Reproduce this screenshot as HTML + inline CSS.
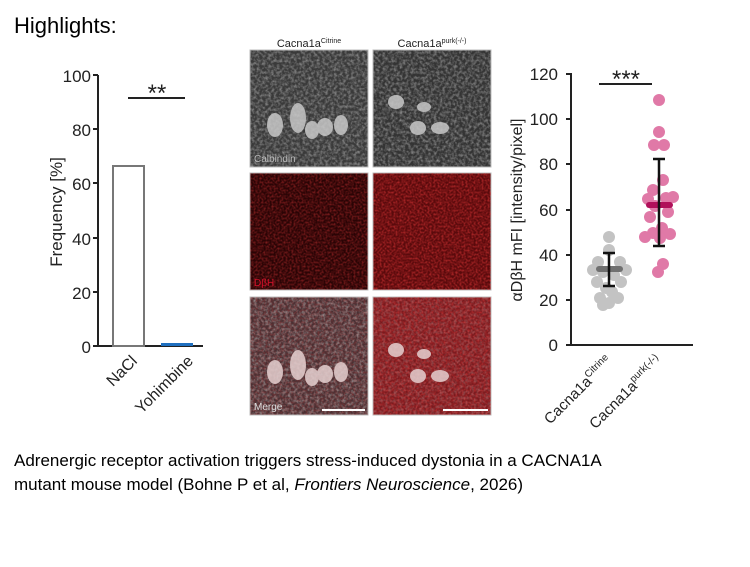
<!DOCTYPE html>
<html><head><meta charset="utf-8"><style>
body{margin:0;background:#fff;width:750px;height:562px;overflow:hidden;font-family:"Liberation Sans",sans-serif}
</style></head><body>
<svg width="750" height="562" viewBox="0 0 750 562" xmlns="http://www.w3.org/2000/svg" font-family="Liberation Sans, sans-serif">
<defs>
<filter id="noiseG" x="0" y="0" width="100%" height="100%">
<feTurbulence type="fractalNoise" baseFrequency="0.35" numOctaves="2" seed="3"/>
<feColorMatrix type="matrix" values="0 0 0 0 0.5  0 0 0 0 0.5  0 0 0 0 0.5  0 0 0 1.2 -0.45"/>
</filter>
<filter id="noiseR" x="0" y="0" width="100%" height="100%">
<feTurbulence type="fractalNoise" baseFrequency="0.5" numOctaves="2" seed="7"/>
<feColorMatrix type="matrix" values="0 0 0 0 0.9  0 0 0 0 0.05  0 0 0 0 0.05  0 0 0 1.4 -0.5"/>
</filter>
</defs>
<text x="14" y="33" font-size="22" fill="#000">Highlights:</text>

<!-- Left bar chart -->
<g stroke="#222" stroke-width="2" fill="none">
<line x1="98" y1="75" x2="98" y2="346"/>
<line x1="93" y1="346" x2="203" y2="346"/>
<line x1="93" y1="75" x2="98" y2="75"/><line x1="93" y1="129" x2="98" y2="129"/>
<line x1="93" y1="183" x2="98" y2="183"/><line x1="93" y1="238" x2="98" y2="238"/>
<line x1="93" y1="292" x2="98" y2="292"/>
<line x1="128" y1="98" x2="185" y2="98"/>
</g>
<g font-size="17" fill="#222" text-anchor="end">
<text x="91" y="82">100</text><text x="91" y="136">80</text><text x="91" y="190">60</text>
<text x="91" y="245">40</text><text x="91" y="299">20</text><text x="91" y="353">0</text>
</g>
<text x="157" y="101" font-size="24" text-anchor="middle" fill="#222">**</text>
<text transform="translate(62,212) rotate(-90)" font-size="17" text-anchor="middle" fill="#222">Frequency [%]</text>
<rect x="113" y="166" width="31" height="180" fill="#fff" stroke="#777" stroke-width="2"/>
<rect x="161" y="343" width="32" height="3" fill="#1f6fbf"/>
<text transform="translate(138,362) rotate(-45)" font-size="16" text-anchor="end" fill="#222">NaCl</text>
<text transform="translate(194,362) rotate(-45)" font-size="16" text-anchor="end" fill="#222">Yohimbine</text>

<!-- Images -->
<text x="309" y="47" font-size="11" text-anchor="middle" fill="#222">Cacna1a<tspan font-size="7" dy="-4">Citrine</tspan></text>
<text x="432" y="47" font-size="11" text-anchor="middle" fill="#222">Cacna1a<tspan font-size="7" dy="-4">purk(-/-)</tspan></text>
<g>
<rect x="250" y="50" width="118" height="117" fill="#3a3a3a" stroke="#bbb"/>
<rect x="250" y="50" width="118" height="117" filter="url(#noiseG)"/>
<rect x="373" y="50" width="118" height="117" fill="#343434" stroke="#bbb"/>
<rect x="373" y="50" width="118" height="117" filter="url(#noiseG)"/>
<g fill="#c8c8c8" opacity="0.85">
<ellipse cx="275" cy="125" rx="8" ry="12"/><ellipse cx="298" cy="118" rx="8" ry="15"/>
<ellipse cx="312" cy="130" rx="7" ry="9"/><ellipse cx="325" cy="127" rx="8" ry="9"/>
<ellipse cx="341" cy="125" rx="7" ry="10"/>
<ellipse cx="396" cy="102" rx="8" ry="7"/><ellipse cx="424" cy="107" rx="7" ry="5"/>
<ellipse cx="418" cy="128" rx="8" ry="7"/><ellipse cx="440" cy="128" rx="9" ry="6"/>
</g>
<text x="254" y="162" font-size="10" fill="#bbb">Calbindin</text>

<rect x="250" y="173" width="118" height="117" fill="#2a0405" stroke="#bbb"/>
<rect x="250" y="173" width="118" height="117" filter="url(#noiseR)" opacity="0.6"/>
<rect x="373" y="173" width="118" height="117" fill="#5a0a0c" stroke="#bbb"/>
<rect x="373" y="173" width="118" height="117" filter="url(#noiseR)" opacity="0.8"/>
<text x="254" y="286" font-size="10" fill="#d0102a">DβH</text>

<rect x="250" y="297" width="118" height="118" fill="#4a3033" stroke="#bbb"/>
<rect x="250" y="297" width="118" height="118" filter="url(#noiseG)"/>
<rect x="250" y="297" width="118" height="118" filter="url(#noiseR)" opacity="0.35"/>
<rect x="373" y="297" width="118" height="118" fill="#7a1a1e" stroke="#bbb"/>
<rect x="373" y="297" width="118" height="118" filter="url(#noiseR)" opacity="0.7"/>
<rect x="373" y="297" width="118" height="118" filter="url(#noiseG)" opacity="0.5"/>
<g fill="#e6d0d0" opacity="0.85">
<ellipse cx="275" cy="372" rx="8" ry="12"/><ellipse cx="298" cy="365" rx="8" ry="15"/>
<ellipse cx="312" cy="377" rx="7" ry="9"/><ellipse cx="325" cy="374" rx="8" ry="9"/>
<ellipse cx="341" cy="372" rx="7" ry="10"/>
<ellipse cx="396" cy="350" rx="8" ry="7"/><ellipse cx="424" cy="354" rx="7" ry="5"/>
<ellipse cx="418" cy="376" rx="8" ry="7"/><ellipse cx="440" cy="376" rx="9" ry="6"/>
</g>
<text x="254" y="410" font-size="10" fill="#ddd">Merge</text>
<line x1="322" y1="410" x2="365" y2="410" stroke="#fff" stroke-width="2"/>
<line x1="443" y1="410" x2="488" y2="410" stroke="#fff" stroke-width="2"/>
</g>

<!-- Right scatter chart -->
<g stroke="#222" stroke-width="2" fill="none">
<line x1="571" y1="73" x2="571" y2="345"/>
<line x1="566" y1="345" x2="693" y2="345"/>
<line x1="566" y1="74" x2="571" y2="74"/><line x1="566" y1="119" x2="571" y2="119"/>
<line x1="566" y1="164" x2="571" y2="164"/><line x1="566" y1="210" x2="571" y2="210"/>
<line x1="566" y1="255" x2="571" y2="255"/><line x1="566" y1="300" x2="571" y2="300"/>
<line x1="599" y1="84" x2="652" y2="84"/>
</g>
<g font-size="17" fill="#222" text-anchor="end">
<text x="558" y="80">120</text><text x="558" y="125">100</text><text x="558" y="170">80</text>
<text x="558" y="216">60</text><text x="558" y="261">40</text><text x="558" y="306">20</text><text x="558" y="351">0</text>
</g>
<text x="626" y="87" font-size="24" text-anchor="middle" fill="#222">***</text>
<text transform="translate(522,210) rotate(-90)" font-size="16" text-anchor="middle" fill="#222">αDβH mFI [intensity/pixel]</text>
<g fill="#b0b0b0" opacity="0.75">
<circle cx="609" cy="237" r="6"/><circle cx="609" cy="250" r="6"/><circle cx="598" cy="262" r="6"/>
<circle cx="620" cy="262" r="6"/><circle cx="593" cy="270" r="6"/><circle cx="626" cy="270" r="6"/>
<circle cx="603" cy="272" r="6"/><circle cx="614" cy="275" r="6"/><circle cx="597" cy="282" r="6"/>
<circle cx="621" cy="282" r="6"/><circle cx="606" cy="288" r="6"/><circle cx="612" cy="292" r="6"/>
<circle cx="600" cy="298" r="6"/><circle cx="618" cy="298" r="6"/><circle cx="609" cy="303" r="6"/>
<circle cx="603" cy="305" r="6"/>
</g>
<g fill="#d64d8a" opacity="0.75">
<circle cx="659" cy="100" r="6"/><circle cx="659" cy="132" r="6"/><circle cx="654" cy="145" r="6"/>
<circle cx="664" cy="145" r="6"/><circle cx="663" cy="180" r="6"/><circle cx="653" cy="190" r="6"/>
<circle cx="666" cy="198" r="6"/><circle cx="648" cy="199" r="6"/><circle cx="673" cy="197" r="6"/>
<circle cx="655" cy="206" r="6"/><circle cx="668" cy="212" r="6"/><circle cx="650" cy="217" r="6"/>
<circle cx="662" cy="228" r="6"/><circle cx="653" cy="233" r="6"/><circle cx="670" cy="234" r="6"/>
<circle cx="645" cy="237" r="6"/><circle cx="660" cy="238" r="6"/><circle cx="663" cy="264" r="6"/>
<circle cx="658" cy="272" r="6"/>
</g>
<rect x="596" y="266" width="27" height="6" rx="3" fill="#707070"/>
<rect x="646" y="202" width="27" height="6" rx="3" fill="#b0105a"/>
<g stroke="#111" stroke-width="2.5" fill="none">
<line x1="609" y1="253" x2="609" y2="286"/><line x1="603" y1="253" x2="615" y2="253"/><line x1="603" y1="286" x2="615" y2="286"/>
<line x1="659" y1="159" x2="659" y2="246"/><line x1="653" y1="159" x2="665" y2="159"/><line x1="653" y1="246" x2="665" y2="246"/>
</g>
<text transform="translate(613,362) rotate(-45)" font-size="15" text-anchor="end" fill="#222">Cacna1a<tspan font-size="10" dy="-6">Citrine</tspan></text>
<text transform="translate(663,362) rotate(-45)" font-size="15" text-anchor="end" fill="#222">Cacna1a<tspan font-size="10" dy="-6">purk(-/-)</tspan></text>

<text x="14" y="466" font-size="17" fill="#000">Adrenergic receptor activation triggers stress-induced dystonia in a CACNA1A</text>
<text x="14" y="490" font-size="17" fill="#000">mutant mouse model (Bohne P et al, <tspan font-style="italic">Frontiers Neuroscience</tspan>, 2026)</text>
</svg>
</body></html>
